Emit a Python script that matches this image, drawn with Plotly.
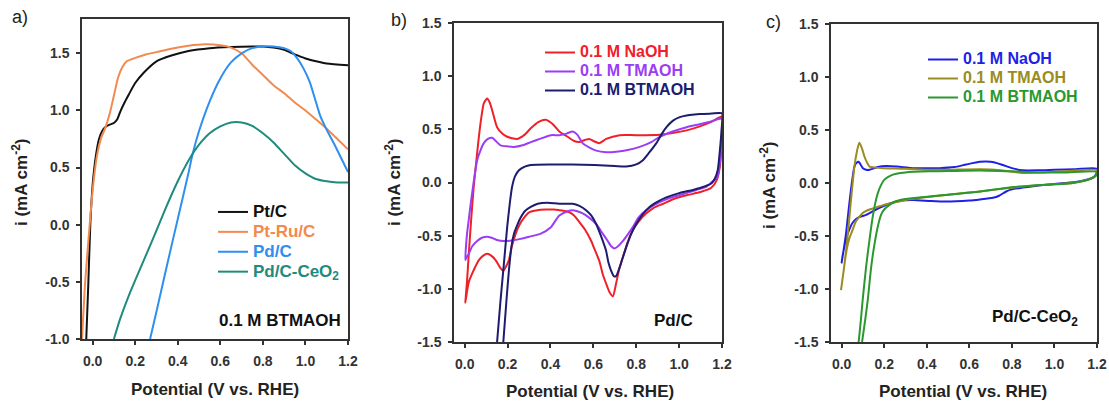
import plotly.graph_objects as go

W, H = 1109, 403

# ---------------- Panel a : linear sweep, 0.1 M BTMAOH ----------------
a_pt_v = [-0.03, -0.02, -0.011, 0.0, 0.015, 0.03, 0.045, 0.06, 0.08, 0.1, 0.115, 0.13, 0.15, 0.17,
          0.2, 0.24, 0.3, 0.37, 0.45, 0.55, 0.65, 0.75, 0.8, 0.85, 0.9, 0.95, 1.0, 1.05, 1.1, 1.2]
a_pt_i = [-1.0, -0.5, 0.0, 0.35, 0.6, 0.75, 0.82, 0.855, 0.875, 0.89, 0.92, 0.99, 1.07, 1.14,
          1.24, 1.33, 1.43, 1.48, 1.52, 1.545, 1.555, 1.56, 1.56, 1.55, 1.53, 1.49, 1.455, 1.43, 1.41, 1.395]

a_ptru_v = [-0.05, -0.035, -0.014, 0.0, 0.02, 0.04, 0.06, 0.08, 0.1, 0.12, 0.14, 0.16, 0.2, 0.25, 0.3,
            0.37, 0.45, 0.53, 0.6, 0.65, 0.7, 0.75, 0.8, 0.85, 0.9, 0.95, 1.0, 1.05, 1.1, 1.15, 1.2]
a_ptru_i = [-1.0, -0.5, 0.0, 0.3, 0.6, 0.76, 0.85, 0.97, 1.13, 1.29, 1.38, 1.43, 1.46, 1.49, 1.51,
            1.54, 1.565, 1.578, 1.57, 1.55, 1.5, 1.4, 1.31, 1.22, 1.15, 1.07, 1.0, 0.92, 0.84, 0.75, 0.66]

a_pd_v = [0.27, 0.3, 0.35, 0.4, 0.45, 0.47, 0.5, 0.55, 0.6, 0.65, 0.7, 0.75, 0.8, 0.85, 0.9,
          0.93, 0.96, 0.99, 1.02, 1.045, 1.07, 1.1, 1.134, 1.17, 1.2]
a_pd_i = [-1.0, -0.76, -0.35, 0.05, 0.45, 0.62, 0.82, 1.08, 1.28, 1.42, 1.5, 1.545, 1.56, 1.56, 1.545,
          1.52, 1.46, 1.37, 1.25, 1.1, 0.95, 0.83, 0.71, 0.575, 0.46]

a_pdce_v = [0.1, 0.13, 0.17, 0.22, 0.28, 0.34, 0.4, 0.45, 0.5, 0.55, 0.6, 0.65, 0.7, 0.75, 0.8,
            0.85, 0.9, 0.95, 1.0, 1.05, 1.1, 1.15, 1.2]
a_pdce_i = [-1.0, -0.82, -0.62, -0.4, -0.14, 0.13, 0.38, 0.56, 0.7, 0.8, 0.86, 0.895, 0.895, 0.865, 0.8,
            0.72, 0.62, 0.52, 0.45, 0.4, 0.38, 0.37, 0.37]

# ---------------- Panel b : CV on Pd/C (forward then reverse scan) ----------------
b_naoh_v = [0.003, 0.011, 0.019, 0.03, 0.042, 0.055, 0.066, 0.078, 0.089, 0.105, 0.117, 0.128, 0.151, 0.175,
            0.198, 0.245, 0.28, 0.308, 0.345, 0.378, 0.41, 0.441, 0.48, 0.51, 0.534, 0.56, 0.581, 0.6, 0.628,
            0.66, 0.722, 0.8, 0.909, 0.97, 1.035, 1.1, 1.15, 1.2,
            1.198, 1.19, 1.175, 1.15, 1.1, 1.035, 0.98, 0.925, 0.88, 0.847, 0.81, 0.784, 0.76, 0.738, 0.72,
            0.706, 0.691, 0.675, 0.667, 0.645, 0.628, 0.6, 0.59, 0.56, 0.534, 0.51, 0.488, 0.46, 0.441, 0.417,
            0.378, 0.339, 0.3, 0.277, 0.255, 0.238, 0.22, 0.206, 0.19, 0.18, 0.165, 0.144, 0.125, 0.105, 0.085,
            0.066, 0.05, 0.034, 0.02, 0.011, 0.003]
b_naoh_i = [-1.13, -0.92, -0.67, -0.35, -0.04, 0.22, 0.43, 0.62, 0.745, 0.79, 0.75, 0.68, 0.52, 0.46,
            0.43, 0.41, 0.45, 0.51, 0.57, 0.59, 0.55, 0.48, 0.43, 0.39, 0.38, 0.4, 0.41, 0.39, 0.37,
            0.41, 0.445, 0.445, 0.45, 0.465, 0.49, 0.53, 0.57, 0.62,
            0.4, 0.15, 0.02, -0.05, -0.09, -0.12, -0.15, -0.2, -0.24, -0.29, -0.37, -0.45, -0.56, -0.7, -0.82,
            -0.95, -1.07, -1.03, -0.99, -0.87, -0.74, -0.6, -0.55, -0.44, -0.37, -0.31, -0.28, -0.265, -0.26, -0.255,
            -0.255, -0.26, -0.28, -0.33, -0.4, -0.48, -0.6, -0.73, -0.8, -0.83, -0.8, -0.73, -0.69, -0.67, -0.69,
            -0.73, -0.79, -0.86, -0.93, -1.02, -1.13]

b_tma_v = [0.003, 0.01, 0.019, 0.026, 0.04, 0.058, 0.075, 0.089, 0.108, 0.128, 0.145, 0.167, 0.2, 0.23,
           0.27, 0.308, 0.35, 0.402, 0.441, 0.475, 0.503, 0.525, 0.55, 0.58, 0.613, 0.66, 0.707, 0.76,
           0.816, 0.87, 0.909, 0.97, 1.035, 1.1, 1.15, 1.2,
           1.198, 1.19, 1.178, 1.15, 1.128, 1.08, 1.035, 0.98, 0.925, 0.885, 0.847, 0.81, 0.784, 0.76, 0.738,
           0.715, 0.698, 0.683, 0.667, 0.64, 0.613, 0.58, 0.55, 0.525, 0.503, 0.48, 0.441, 0.402, 0.355, 0.3,
           0.261, 0.22, 0.183, 0.15, 0.125, 0.105, 0.08, 0.058, 0.035, 0.019, 0.01, 0.003]
b_tma_i = [-0.73, -0.5, -0.35, -0.23, -0.02, 0.21, 0.31, 0.37, 0.41, 0.42, 0.39, 0.35, 0.34, 0.335,
           0.35, 0.38, 0.41, 0.445, 0.445, 0.46, 0.48, 0.45, 0.37, 0.33, 0.3, 0.285, 0.29, 0.305,
           0.335, 0.38, 0.43, 0.48, 0.52, 0.55, 0.575, 0.6,
           0.35, 0.18, 0.05, 0.0, -0.04, -0.07, -0.1, -0.13, -0.17, -0.21, -0.26, -0.33, -0.42, -0.49, -0.55,
           -0.6, -0.62, -0.6, -0.55, -0.47, -0.39, -0.33, -0.29, -0.27, -0.26, -0.27, -0.31, -0.42, -0.48, -0.51,
           -0.53, -0.545, -0.55, -0.54, -0.52, -0.51, -0.52, -0.55, -0.6, -0.67, -0.7, -0.73]

b_btma_v = [0.151, 0.167, 0.182, 0.198, 0.21, 0.221, 0.235, 0.253, 0.28, 0.308, 0.4, 0.5, 0.605, 0.7,
            0.753, 0.8, 0.831, 0.86, 0.894, 0.92, 0.941, 0.97, 1.003, 1.05, 1.097, 1.15, 1.2,
            1.198, 1.19, 1.18, 1.165, 1.15, 1.1, 1.064, 1.0, 0.94, 0.9, 0.862, 0.83, 0.8, 0.775, 0.753, 0.735,
            0.722, 0.706, 0.695, 0.683, 0.67, 0.659, 0.635, 0.613, 0.59, 0.566, 0.535, 0.503, 0.441, 0.386,
            0.34, 0.308, 0.28, 0.261, 0.245, 0.23, 0.218, 0.206, 0.195, 0.18]
b_btma_i = [-1.5, -1.11, -0.78, -0.42, -0.2, -0.04, 0.06, 0.115, 0.15, 0.165, 0.17, 0.17, 0.165, 0.155,
            0.15, 0.17, 0.21, 0.28, 0.37, 0.46, 0.52, 0.58, 0.615, 0.635, 0.645, 0.648, 0.65,
            0.5, 0.3, 0.115, 0.03, -0.01, -0.05, -0.07, -0.1, -0.14, -0.18, -0.23, -0.3, -0.39, -0.49, -0.61, -0.72,
            -0.8, -0.88, -0.88, -0.83, -0.75, -0.64, -0.5, -0.39, -0.31, -0.26, -0.22, -0.2, -0.2, -0.19,
            -0.2, -0.23, -0.27, -0.33, -0.4, -0.48, -0.6, -0.83, -1.1, -1.5]

# ---------------- Panel c : CV on Pd/C-CeO2 ----------------
c_naoh_v = [0.0, 0.008, 0.021, 0.033, 0.044, 0.052, 0.06, 0.07, 0.08, 0.09, 0.1, 0.115, 0.131, 0.17, 0.21,
            0.26, 0.335, 0.4, 0.46, 0.53, 0.586, 0.65, 0.7, 0.75, 0.8, 0.85, 0.93, 1.0, 1.1, 1.2,
            1.195, 1.18, 1.15, 1.1, 1.0, 0.9, 0.8, 0.773, 0.74, 0.711, 0.65, 0.6, 0.49, 0.42, 0.335, 0.27,
            0.21, 0.162, 0.115, 0.085, 0.068, 0.05, 0.036, 0.025, 0.013, 0.005, 0.0]
c_naoh_i = [-0.75, -0.65, -0.47, -0.25, -0.06, 0.06, 0.155, 0.19, 0.2, 0.17, 0.14, 0.125, 0.125, 0.15, 0.16,
            0.155, 0.14, 0.14, 0.14, 0.15, 0.175, 0.2, 0.2, 0.175, 0.14, 0.12, 0.12, 0.125, 0.13, 0.135,
            0.08, 0.05, 0.03, 0.01, -0.01, -0.03, -0.06, -0.08, -0.12, -0.14, -0.155, -0.165, -0.175, -0.17,
            -0.16, -0.17, -0.205, -0.25, -0.3, -0.32, -0.34, -0.38, -0.44, -0.5, -0.6, -0.68, -0.75]

c_tma_v = [-0.003, 0.01, 0.021, 0.033, 0.044, 0.06, 0.072, 0.083, 0.095, 0.107, 0.12, 0.131, 0.16, 0.193,
           0.3, 0.414, 0.5, 0.65, 0.75, 0.85, 0.95, 1.05, 1.2,
           1.195, 1.17, 1.086, 0.93, 0.773, 0.65, 0.5, 0.414, 0.3, 0.257, 0.21, 0.178, 0.131, 0.1, 0.083,
           0.065, 0.052, 0.035, 0.021, 0.01, -0.003]
c_tma_i = [-1.01, -0.82, -0.63, -0.4, -0.16, 0.155, 0.3, 0.38, 0.33, 0.25, 0.19, 0.155, 0.145, 0.14,
           0.135, 0.125, 0.125, 0.13, 0.12, 0.095, 0.1, 0.11, 0.12,
           0.07, 0.04, 0.0, -0.02, -0.05, -0.08, -0.11, -0.13, -0.16, -0.18, -0.2, -0.22, -0.25, -0.28, -0.32,
           -0.37, -0.44, -0.53, -0.66, -0.82, -1.01]

c_btma_v = [0.08, 0.09, 0.099, 0.115, 0.13, 0.146, 0.158, 0.17, 0.185, 0.2, 0.23, 0.257, 0.3, 0.414, 0.5,
            0.65, 0.8, 0.93, 1.05, 1.2,
            1.195, 1.17, 1.086, 0.93, 0.8, 0.65, 0.5, 0.414, 0.3, 0.257, 0.23, 0.2, 0.185, 0.17, 0.155,
            0.139, 0.123, 0.11, 0.096]
c_btma_i = [-1.5, -1.3, -1.1, -0.79, -0.55, -0.32, -0.19, -0.095, -0.02, 0.03, 0.07, 0.087, 0.1, 0.11, 0.113,
            0.118, 0.11, 0.1, 0.1, 0.105,
            0.07, 0.04, 0.0, -0.02, -0.04, -0.08, -0.11, -0.127, -0.15, -0.17, -0.2, -0.25, -0.3, -0.41, -0.57,
            -0.79, -1.1, -1.3, -1.5]

x_ticks = [0.0, 0.2, 0.4, 0.6, 0.8, 1.0, 1.2]
x_ticklabels = ["0.0", "0.2", "0.4", "0.6", "0.8", "1.0", "1.2"]
ya_ticks = [-1.0, -0.5, 0.0, 0.5, 1.0, 1.5]
ya_ticklabels = ["-1.0", "-0.5", "0.0", "0.5", "1.0", "1.5"]
ybc_ticks = [-1.5, -1.0, -0.5, 0.0, 0.5, 1.0, 1.5]
ybc_ticklabels = ["-1.5", "-1.0", "-0.5", "0.0", "0.5", "1.0", "1.5"]

FONT = "Liberation Sans, Arial, sans-serif"
fig = go.Figure()


def leg_name(text, color, size=16):
    return f"<span style='color:{color};font-size:{size}px'>{text}</span>"


def add(v, i, color, name, xa, ya, legend):
    fig.add_trace(go.Scatter(x=v, y=i, mode="lines", xaxis=xa, yaxis=ya, legend=legend,
                             line=dict(color=color, width=2, shape="spline", smoothing=0.6),
                             name=name, hoverinfo="skip"))


# panel a
add(a_pt_v, a_pt_i, "#111111", leg_name("Pt/C", "#111111", 17), "x", "y", "legend")
add(a_ptru_v, a_ptru_i, "#F28A4F", leg_name("Pt-Ru/C", "#F28A4F", 17), "x", "y", "legend")
add(a_pd_v, a_pd_i, "#2E8FEF", leg_name("Pd/C", "#2E8FEF", 17), "x", "y", "legend")
add(a_pdce_v, a_pdce_i, "#1E8B7D", leg_name("Pd/C-CeO<sub>2</sub>", "#1E8B7D", 17), "x", "y", "legend")
# panel b
add(b_naoh_v, b_naoh_i, "#F02028", leg_name("0.1 M NaOH", "#F02028"), "x2", "y2", "legend2")
add(b_tma_v, b_tma_i, "#9B3DF5", leg_name("0.1 M TMAOH", "#9B3DF5"), "x2", "y2", "legend2")
add(b_btma_v, b_btma_i, "#1C1C70", leg_name("0.1 M BTMAOH", "#1C1C70"), "x2", "y2", "legend2")
# panel c
add(c_naoh_v, c_naoh_i, "#1F1FE6", leg_name("0.1 M NaOH", "#1F1FE6"), "x3", "y3", "legend3")
add(c_tma_v, c_tma_i, "#9A8C1E", leg_name("0.1 M TMAOH", "#9A8C1E"), "x3", "y3", "legend3")
add(c_btma_v, c_btma_i, "#2A982E", leg_name("0.1 M BTMAOH", "#2A982E"), "x3", "y3", "legend3")

TICKFONT = dict(family=FONT, size=14, color="#333", weight="bold")


def bold(labels):
    return [f"<b>{s}</b>" for s in labels]


def common_axis():
    return dict(showline=True, mirror=True, linecolor="#333", linewidth=1.5,
                ticks="outside", ticklen=4, tickwidth=1.5, tickcolor="#333",
                showgrid=False, zeroline=False, tickfont=TICKFONT, ticklabelstandoff=4)


def xax(dom, anchor):
    return dict(common_axis(), domain=dom, anchor=anchor, range=[-0.05, 1.2],
                tickvals=x_ticks, ticktext=bold(x_ticklabels))


def yax(dom, anchor, rng, tv, tt):
    return dict(common_axis(), domain=dom, anchor=anchor, range=rng, tickvals=tv, ticktext=bold(tt))


def px_x(p):
    return p / W


def px_y(p):
    return 1 - p / H


def legend_common(size):
    return dict(bgcolor="rgba(0,0,0,0)", borderwidth=0, xanchor="left", yanchor="top",
                font=dict(family=FONT, size=size, weight="bold"), itemwidth=30)


fig.update_layout(
    width=W, height=H, margin=dict(l=0, r=0, t=0, b=0, autoexpand=False),
    paper_bgcolor="white", plot_bgcolor="white",
    font=dict(family=FONT),
    xaxis=xax([px_x(82), px_x(348)], "y"),
    yaxis=yax([px_y(339), px_y(19)], "x", [-1.0, 1.8], ya_ticks, ya_ticklabels),
    xaxis2=xax([px_x(454), px_x(722)], "y2"),
    yaxis2=yax([px_y(342), px_y(23)], "x2", [-1.5, 1.5], ybc_ticks, ybc_ticklabels),
    xaxis3=xax([px_x(831), px_x(1097)], "y3"),
    yaxis3=yax([px_y(342), px_y(24)], "x3", [-1.5, 1.5], ybc_ticks, ybc_ticklabels),
    legend=dict(legend_common(13), x=px_x(213), y=px_y(197)),
    legend2=dict(legend_common(12), x=px_x(540), y=px_y(38)),
    legend3=dict(legend_common(12), x=px_x(923), y=px_y(45)),
    showlegend=True,
)

ann = []


def text(x, y, s, size, weight="bold", angle=0, color="#222"):
    ann.append(dict(x=px_x(x), y=px_y(y), xref="paper", yref="paper", text=s, showarrow=False,
                    textangle=angle, xanchor="center", yanchor="middle",
                    font=dict(family=FONT, size=size, color=color, weight=weight)))


# panel labels
text(20, 17, "a)", 18, weight="normal")
text(399, 20, "b)", 18, weight="normal")
text(773, 22, "c)", 18, weight="normal")
# axis titles
for cx, cy in [(215, 389), (590, 391), (963, 391)]:
    text(cx, cy, "Potential (V vs. RHE)", 17)
for cx, cy in [(20, 183), (393, 183), (768, 186)]:
    text(cx, cy, "i (mA cm<sup>-2</sup>)", 17, angle=-90)
# in-plot labels
text(280, 320, "0.1 M BTMAOH", 17, color="#111")
text(673, 320, "Pd/C", 17, color="#111")
text(1035, 318, "Pd/C-CeO<sub>2</sub>", 17, color="#111")

fig.update_layout(annotations=ann)
fig.write_html("out.html")
